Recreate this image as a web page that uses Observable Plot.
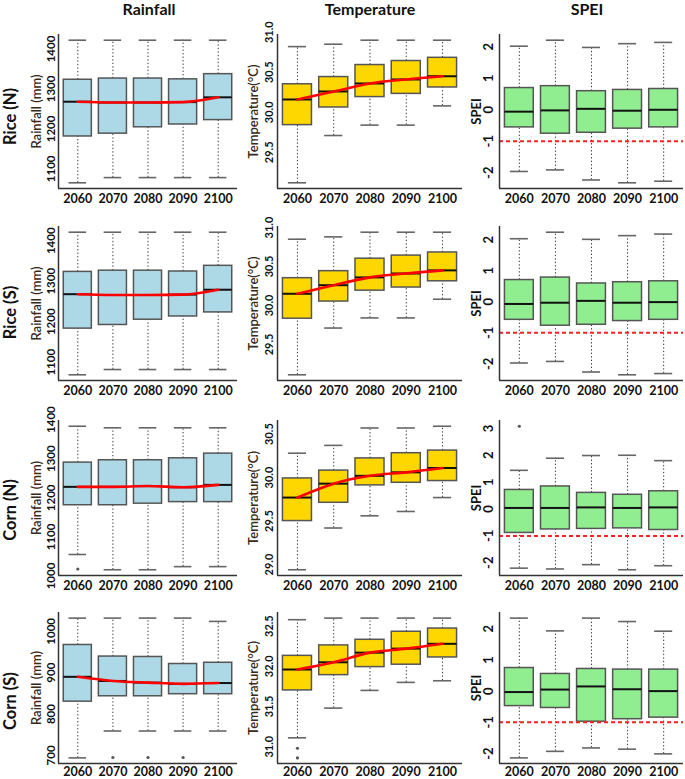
<!DOCTYPE html>
<html><head><meta charset="utf-8">
<script src="https://cdn.jsdelivr.net/npm/d3@7"></script>
<script src="https://cdn.jsdelivr.net/npm/@observablehq/plot@0.6"></script>
<style>
html,body{margin:0;padding:0;background:#fff;}
#root{position:relative;width:685px;height:779px;overflow:hidden;font-family:Lato,"Open Sans",sans-serif;}
.title{position:absolute;top:0px;font-size:16px;line-height:17px;font-weight:bold;color:#111;transform:translateX(-50%);white-space:nowrap;}
.panel{position:absolute;}
</style></head><body><div id="root"></div>
<script>
const years = ["2060","2070","2080","2090","2100"];
const columnTitles = ["Rainfall","Temperature","SPEI"];
const rowLabels = ["Rice (N)","Rice (S)","Corn (N)","Corn (S)"];
const yLabels = ["Rainfall (mm)","Temperature(°C)","SPEI"];
// per year: [lower whisker, Q1, median, Q3, upper whisker]
const riceN_rain = [[1065,1181,1268,1323,1422],[1078,1188,1266,1326,1422],[1078,1204,1266,1326,1422],[1078,1211,1267,1324,1422],[1078,1222,1279,1337,1422]];
const riceN_temp = [[29.12,29.84,30.16,30.35,30.82],[29.71,30.06,30.26,30.44,30.85],[29.84,30.19,30.36,30.59,30.90],[29.84,30.23,30.41,30.64,30.90],[30.08,30.31,30.45,30.68,30.90]];
const riceN_spei = [[-1.96,-0.56,-0.06,0.69,2.02],[-1.91,-0.76,-0.02,0.75,2.21],[-2.23,-0.73,0.03,0.59,1.98],[-2.32,-0.60,-0.03,0.63,2.10],[-2.27,-0.56,0.00,0.66,2.14]];
const riceS_rain = [[1069,1183,1268,1323,1421],[1082,1192,1266,1326,1421],[1082,1205,1266,1326,1421],[1082,1213,1267,1324,1421],[1082,1223,1279,1338,1421]];
const riceS_temp = [[29.11,29.83,30.15,30.35,30.85],[29.71,30.05,30.26,30.44,30.88],[29.84,30.19,30.36,30.60,30.94],[29.84,30.23,30.41,30.64,30.94],[30.08,30.31,30.45,30.68,30.94]];
const riceS_spei = [[-1.97,-0.58,-0.07,0.70,2.03],[-1.92,-0.77,-0.03,0.78,2.24],[-2.26,-0.74,0.03,0.59,2.01],[-2.35,-0.62,-0.03,0.63,2.13],[-2.31,-0.58,-0.01,0.66,2.18]];
const cornN_rain = [[1055,1181,1228,1290,1383],[1016,1181,1228,1296,1379],[1016,1185,1230,1296,1379],[1024,1189,1227,1301,1379],[1024,1189,1233,1313,1379]];
const cornN_temp = [[28.94,29.50,29.77,29.99,30.28],[29.42,29.71,29.93,30.08,30.37],[29.56,29.91,30.02,30.22,30.57],[29.61,29.94,30.06,30.28,30.57],[29.77,29.96,30.11,30.31,30.59]];
const cornN_spei = [[-2.20,-0.89,0.04,0.71,1.44],[-2.23,-0.76,0.04,0.84,1.89],[-2.07,-0.74,0.06,0.60,1.99],[-2.26,-0.72,0.04,0.53,2.00],[-2.11,-0.78,0.06,0.66,1.80]];
const cornS_rain = [[694,830,890,967,1032],[759,843,880,939,1032],[759,843,876,938,1032],[759,848,873,921,1032],[759,848,875,924,1024]];
const cornS_temp = [[31.11,31.70,31.96,32.13,32.58],[31.48,31.89,32.05,32.26,32.60],[31.70,31.99,32.17,32.33,32.60],[31.80,32.02,32.22,32.43,32.60],[31.82,32.11,32.28,32.47,32.60]];
const cornS_spei = [[-2.14,-0.48,-0.03,0.74,2.34],[-1.93,-0.54,0.05,0.55,1.93],[-1.82,-0.98,0.15,0.71,2.34],[-1.86,-0.90,0.06,0.69,2.23],[-2.01,-0.85,0.00,0.69,1.92]];
// outliers: [year index (1-5), value]
const cornN_rain_out = [[1,1018]];
const cornN_spei_out = [[1,3.08]];
const cornS_rain_out = [[2,695],[3,695],[4,695]];
const cornS_temp_out = [[1,30.98],[1,30.86]];
// tick labels
const rainTicks = [[1100,1200,1300,1400],[1100,1200,1300,1400],[1000,1100,1200,1300,1400],[700,800,900,1000]];
const tempTicks = [[29.5,30.0,30.5,31.0],[29.5,30.0,30.5,31.0],[29.0,29.5,30.0,30.5],[31.0,31.5,32.0,32.5]];
const speiTicks = [[-2,-1,0,1,2],[-2,-1,0,1,2],[-2,-1,0,1,2,3],[-2,-1,0,1,2]];
const droughtLine = -1;

const grid = [
  [riceN_rain, riceN_temp, riceN_spei],
  [riceS_rain, riceS_temp, riceS_spei],
  [cornN_rain, cornN_temp, cornN_spei],
  [cornS_rain, cornS_temp, cornS_spei]
];
const gridOut = [
  [[],[],[]],
  [[],[],[]],
  [cornN_rain_out, [], cornN_spei_out],
  [cornS_rain_out, cornS_temp_out, []]
];
const ticksByCol = [rainTicks, tempTicks, speiTicks];
const fmtByCol = [d => String(d), d => d.toFixed(1), d => String(d)];
const fills = ["#ADD8E6", "#FFD700", "#90EE90"];

// layout
const plotTop = [34, 226, 420, 612];
const plotBottom = [188, 380, 575, 763];
const xLabelDy = [10, 10, 10, 8.5];
const colLeft = [0, 230, 455];
const colWidth = [237, 232, 230];
const colML = [58, 47, 44];
const colMR = [0, 0, 2];
const tickDx = [-7, -8, -11];
const tickFS = [11.5, 11, 13];
const labelDx = [-22, -24, -23];
const rowLabelDy = [5, 9, 12, 13];
const MT = 6, MB = 22;

const root = document.getElementById("root");
const titleX = [149, 370, 587];
columnTitles.forEach((t, c) => {
  const d = document.createElement("div");
  d.className = "title"; d.textContent = t; d.style.left = titleX[c] + "px";
  root.appendChild(d);
});

grid.forEach((rowStats, r) => {
  rowStats.forEach((stats, c) => {
    const data = stats.map((s, k) => ({i: k + 1, lo: s[0], q1: s[1], med: s[2], q3: s[3], hi: s[4]}));
    const outs = gridOut[r][c].map(([i, v]) => ({i, v}));
    const all = stats.flat().concat(outs.map(d => d.v));
    const lo = d3.min(all), hi = d3.max(all), pad = (hi - lo) * 0.04;
    const yDomain = [lo - pad, hi + pad];
    const xDomain = [0.45, 5.55];
    const marks = [
      Plot.ruleX(data, {x: "i", y1: "q3", y2: "hi", stroke: "#333", strokeWidth: 1, strokeDasharray: "1.3,2.2"}),
      Plot.ruleX(data, {x: "i", y1: "lo", y2: "q1", stroke: "#333", strokeWidth: 1, strokeDasharray: "1.3,2.2"}),
      Plot.ruleY(data, {y: "hi", x1: d => d.i - 0.25, x2: d => d.i + 0.25, stroke: "#666", strokeWidth: 1.6}),
      Plot.ruleY(data, {y: "lo", x1: d => d.i - 0.25, x2: d => d.i + 0.25, stroke: "#666", strokeWidth: 1.6}),
      Plot.rect(data, {x1: d => d.i - 0.4, x2: d => d.i + 0.4, y1: "q1", y2: "q3", fill: fills[c], stroke: "#555", strokeWidth: 1.5}),
      Plot.ruleY(data, {y: "med", x1: d => d.i - 0.4, x2: d => d.i + 0.4, stroke: "#111", strokeWidth: 2}),
      Plot.dot(outs, {x: "i", y: "v", r: 1.6, fill: "#555", stroke: null})
    ];
    if (c < 2) marks.push(Plot.line(data, {x: "i", y: "med", stroke: "#ff0000", strokeWidth: 2.6, curve: "monotone-x"}));
    if (c === 2) marks.push(Plot.ruleY([droughtLine], {stroke: "#ff2020", strokeWidth: 2, strokeDasharray: "4,3"}));
    marks.push(
      Plot.ruleX([xDomain[0]], {stroke: "#333", strokeWidth: 1.5}),
      Plot.ruleY([yDomain[0]], {stroke: "#333", strokeWidth: 1.5}),
      Plot.text(years, {x: (d, k) => k + 1, frameAnchor: "bottom", dy: xLabelDy[r], text: d => d, lineAnchor: "middle", fontSize: 12.5, fontWeight: "bold", fill: "#111"}),
      Plot.text(ticksByCol[c][r], {y: d => d, frameAnchor: "left", text: fmtByCol[c], rotate: -90, dx: tickDx[c], lineAnchor: "middle", textAnchor: "middle", fontSize: tickFS[c], fontWeight: "bold", fill: "#111"}),
      Plot.text([yLabels[c]], {frameAnchor: "left", text: d => d, rotate: -90, dx: labelDx[c], lineAnchor: "middle", textAnchor: "middle", fontSize: 13, fontWeight: c === 2 ? "bold" : "600", fill: c === 2 ? "#111" : "#3a2a18"})
    );
    if (c === 0) marks.push(Plot.text([rowLabels[r]], {frameAnchor: "left", text: d => d, rotate: -90, dx: -48, dy: rowLabelDy[r], lineAnchor: "middle", textAnchor: "middle", fontSize: 16.5, fontWeight: "bold", fill: "#111"}));
    const h = MT + (plotBottom[r] - plotTop[r]) + MB;
    const svg = Plot.plot({
      width: colWidth[c], height: h,
      marginLeft: colML[c], marginRight: colMR[c], marginTop: MT, marginBottom: MB,
      x: {domain: xDomain, axis: null},
      y: {domain: yDomain, axis: null},
      style: {background: "transparent", overflow: "visible", fontFamily: "Lato, 'Open Sans', sans-serif", color: "#111"},
      marks
    });
    const wrap = document.createElement("div");
    wrap.className = "panel";
    wrap.style.left = colLeft[c] + "px";
    wrap.style.top = (plotTop[r] - MT) + "px";
    wrap.appendChild(svg);
    root.appendChild(wrap);
  });
});
</script></body></html>
